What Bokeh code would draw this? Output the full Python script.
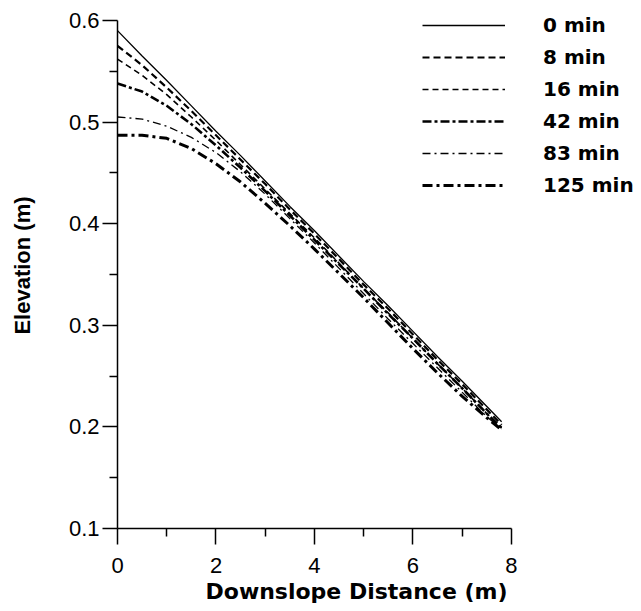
from bokeh.plotting import figure
from bokeh.models import Range1d, FixedTicker, Legend, LegendItem, Title
from bokeh.embed import file_html
from bokeh.resources import INLINE

# ---- data ----
distance = [0.0, 0.5, 1.0, 1.5, 2.0, 2.5, 3.0, 3.5, 4.0, 4.5, 5.0, 5.5, 6.0, 6.5, 7.0, 7.5, 7.8]

elev_0 = [0.590, 0.565, 0.541, 0.516, 0.491, 0.467, 0.442, 0.417, 0.393, 0.368, 0.343, 0.319, 0.294, 0.269, 0.245, 0.220, 0.205]
elev_8 = [0.575, 0.556, 0.534, 0.511, 0.487, 0.463, 0.439, 0.414, 0.390, 0.365, 0.340, 0.316, 0.291, 0.266, 0.242, 0.217, 0.202]
elev_16 = [0.562, 0.546, 0.527, 0.505, 0.482, 0.458, 0.434, 0.410, 0.386, 0.361, 0.336, 0.312, 0.287, 0.262, 0.238, 0.213, 0.199]
elev_42 = [0.538, 0.530, 0.516, 0.498, 0.477, 0.455, 0.432, 0.408, 0.384, 0.360, 0.336, 0.311, 0.287, 0.262, 0.238, 0.213, 0.199]
elev_83 = [0.505, 0.503, 0.496, 0.485, 0.470, 0.451, 0.429, 0.405, 0.381, 0.356, 0.331, 0.306, 0.282, 0.258, 0.234, 0.210, 0.198]
elev_125 = [0.487, 0.487, 0.484, 0.474, 0.459, 0.441, 0.420, 0.398, 0.375, 0.351, 0.327, 0.302, 0.277, 0.253, 0.230, 0.209, 0.197]

labels = ["0 min", "8 min", "16 min", "42 min", "83 min", "125 min"]
series = [elev_0, elev_8, elev_16, elev_42, elev_83, elev_125]

x_ticks = [0, 2, 4, 6, 8]
x_minor = [1, 3, 5, 7]
y_ticks = [0.1, 0.2, 0.3, 0.4, 0.5, 0.6]
y_minor = [0.15, 0.25, 0.35, 0.45, 0.55]

styles = [
    dict(line_width=1.3, line_dash="solid"),
    dict(line_width=2.2, line_dash="7 4"),
    dict(line_width=1.6, line_dash="6 4"),
    dict(line_width=2.6, line_dash="9 3 3 3"),
    dict(line_width=1.3, line_dash="8 4 2 4"),
    dict(line_width=3.0, line_dash="10 4 3 4"),
]

# frame spans from the top of the page so the legend is not clipped;
# the y axis itself is bounded to 0.1 .. 0.6
p = figure(width=641, height=611, output_backend="svg", toolbar_location=None,
           x_range=Range1d(0, 10.64), y_range=Range1d(0.1, 0.6177),
           min_border_left=117, min_border_right=0, min_border_top=2, min_border_bottom=83)
p.outline_line_color = None
p.xgrid.visible = False
p.ygrid.visible = False
p.background_fill_color = "white"

items = []
for lab, ys, st in zip(labels, series, styles):
    r = p.line(distance, ys, line_color="black", line_cap="butt", **st)
    items.append(LegendItem(label=lab, renderers=[r]))

TICK_FONT = "Liberation Sans"

xa = p.xaxis[0]
xa.ticker = FixedTicker(ticks=x_ticks, minor_ticks=x_minor)
xa.bounds = (0, 8)
xa.major_tick_out = 16
xa.major_tick_in = 0
xa.minor_tick_out = 8
xa.minor_tick_in = 0
xa.axis_line_width = 1.5
xa.major_tick_line_width = 1.5
xa.minor_tick_line_width = 1.5
xa.major_label_standoff = 13
xa.major_label_text_font = TICK_FONT
xa.major_label_text_font_size = "22px"
xa.major_label_text_color = "black"

ya = p.yaxis[0]
ya.ticker = FixedTicker(ticks=y_ticks, minor_ticks=y_minor)
ya.bounds = (0.1, 0.6)
ya.major_tick_out = 15
ya.major_tick_in = 0
ya.minor_tick_out = 8
ya.minor_tick_in = 0
ya.axis_line_width = 1.5
ya.major_tick_line_width = 1.5
ya.minor_tick_line_width = 1.5
ya.major_label_standoff = 3
ya.major_label_text_font = TICK_FONT
ya.major_label_text_font_size = "22px"
ya.major_label_text_color = "black"
ya.axis_label = "Elevation (m)"
ya.axis_label_text_font = "Liberation Sans"
ya.axis_label_text_font_style = "bold"
ya.axis_label_text_font_size = "22px"
ya.axis_label_text_color = "black"
ya.axis_label_standoff = 31

xtitle = Title(text="Downslope Distance (m)", align="left", offset=88, standoff=2,
               text_font="DejaVu Sans", text_font_style="bold", text_font_size="22px",
               text_color="black")
p.add_layout(xtitle, "below")

legend = Legend(items=items, location=(305, 331))
legend.glyph_width = 83
legend.glyph_height = 20
legend.label_height = 20
legend.label_standoff = 38
legend.spacing = 8
legend.padding = 0
legend.margin = 0
legend.border_line_alpha = 0
legend.background_fill_alpha = 0
legend.label_text_font = "DejaVu Sans"
legend.label_text_font_style = "bold"
legend.label_text_font_size = "20px"
legend.label_text_color = "black"
p.add_layout(legend)

open("out.html", "w").write(file_html(p, INLINE))
